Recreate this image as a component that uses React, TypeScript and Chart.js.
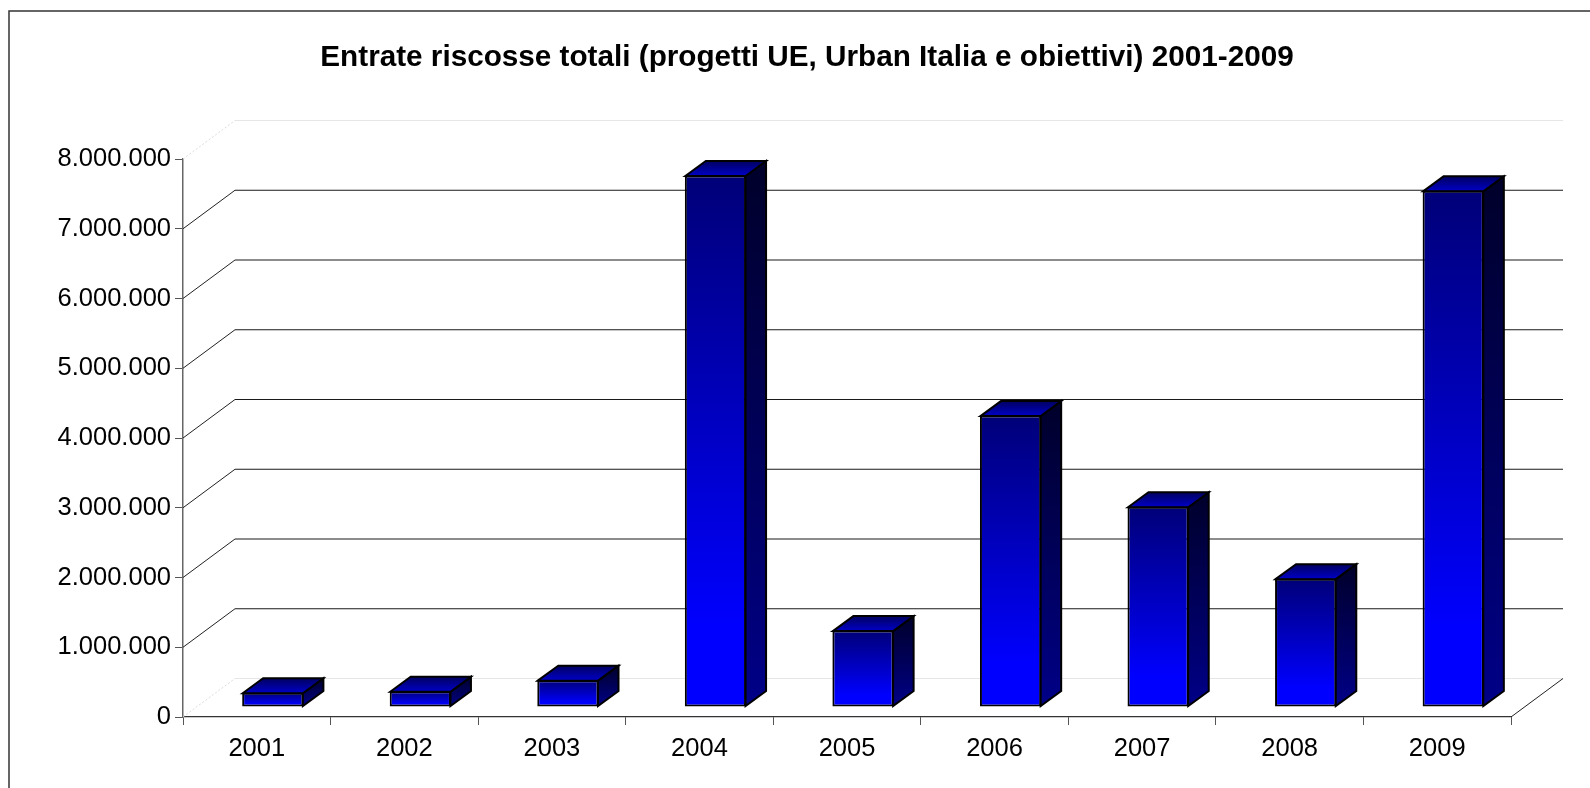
import React, { useEffect, useRef } from "react";
import { Chart, registerables } from "chart.js";

Chart.register(...registerables);

const years = ["2001", "2002", "2003", "2004", "2005", "2006", "2007", "2008", "2009"];
const entrate = [205000, 225000, 385000, 7620000, 1095000, 4178000, 2870000, 1840000, 7400000];
const titleText = "Entrate riscosse totali (progetti UE, Urban Italia e obiettivi) 2001-2009";

const FONT = "'Liberation Sans', Arial, sans-serif";
const WALL_DX = 52;
const WALL_DY = 38.5;
const BAR_SHIFT_X = 16;
const BAR_SHIFT_Y = 10;
const BAR_DX = 20.5;
const BAR_DY = 15;

const fmt = (v: number) => String(v).replace(/\B(?=(\d{3})+(?!\d))/g, ".");

function vGrad(ctx: CanvasRenderingContext2D, y0: number, y1: number, stops: [number, string][]) {
  const g = ctx.createLinearGradient(0, y0, 0, y1);
  stops.forEach(([o, c]) => g.addColorStop(o, c));
  return g;
}

const threeD = {
  id: "threeD",
  beforeDraw(chart: any) {
    const { ctx, width, height } = chart;
    ctx.save();
    ctx.fillStyle = "#ffffff";
    ctx.fillRect(0, 0, width, height);
    ctx.strokeStyle = "#333333";
    ctx.lineWidth = 1.5;
    ctx.beginPath();
    ctx.moveTo(9, height);
    ctx.lineTo(9, 11);
    ctx.lineTo(width, 11);
    ctx.stroke();
    ctx.restore();
  },
  afterLayout(chart: any) {
    chart.scales.y.left = 0;
  },
  afterDatasetsUpdate(chart: any) {
    chart.getDatasetMeta(0).data.forEach((el: any) => {
      el.x += BAR_SHIFT_X;
      el.y -= BAR_SHIFT_Y;
      el.base -= BAR_SHIFT_Y;
    });
  },
  beforeDatasetsDraw(chart: any) {
    const { ctx, scales, chartArea } = chart;
    const y = scales.y;
    ctx.save();
    y.ticks.forEach((t: any) => {
      const py = y.getPixelForValue(t.value);
      const edge = t.value === y.min || t.value === y.max;
      ctx.strokeStyle = edge ? "#e6e6e6" : "#1a1a1a";
      ctx.lineWidth = edge ? 1 : 1.2;
      ctx.beginPath();
      ctx.moveTo(chartArea.left + WALL_DX, py - WALL_DY);
      ctx.lineTo(chartArea.right + WALL_DX, py - WALL_DY);
      ctx.stroke();
      ctx.lineWidth = 1;
      ctx.setLineDash(edge ? [2, 2] : []);
      ctx.strokeStyle = edge ? "#dddddd" : "#222222";
      ctx.beginPath();
      ctx.moveTo(chartArea.left, py);
      ctx.lineTo(chartArea.left + WALL_DX, py - WALL_DY);
      ctx.stroke();
      ctx.setLineDash([]);
    });
    const py0 = y.getPixelForValue(0);
    ctx.strokeStyle = "#222222";
    ctx.beginPath();
    ctx.moveTo(chartArea.right, py0);
    ctx.lineTo(chartArea.right + WALL_DX, py0 - WALL_DY);
    ctx.stroke();

    chart.getDatasetMeta(0).data.forEach((el: any) => {
      const l = el.x - el.width / 2 + 0.5;
      const r = el.x + el.width / 2 - 0.5;
      const t = el.y + 0.5;
      const b = el.base - 0.5;
      ctx.strokeStyle = "#000000";
      ctx.lineWidth = 2;
      ctx.lineJoin = "miter";
      ctx.fillStyle = vGrad(ctx, t - BAR_DY, b, [[0, "#00002a"], [1, "#000088"]]);
      ctx.beginPath();
      ctx.moveTo(r, t);
      ctx.lineTo(r + BAR_DX, t - BAR_DY);
      ctx.lineTo(r + BAR_DX, b - BAR_DY);
      ctx.lineTo(r, b);
      ctx.closePath();
      ctx.fill();
      ctx.stroke();
      ctx.fillStyle = vGrad(ctx, t - BAR_DY, t, [[0, "#000060"], [1, "#0000c8"]]);
      ctx.beginPath();
      ctx.moveTo(l, t);
      ctx.lineTo(l + BAR_DX, t - BAR_DY);
      ctx.lineTo(r + BAR_DX, t - BAR_DY);
      ctx.lineTo(r, t);
      ctx.closePath();
      ctx.fill();
      ctx.stroke();
    });
    ctx.restore();
  },
};

export default function App() {
  const ref = useRef<HTMLCanvasElement>(null);
  useEffect(() => {
    const chart = new Chart(ref.current as HTMLCanvasElement, {
      type: "bar",
      data: {
        labels: years,
        datasets: [
          {
            data: entrate,
            barPercentage: 0.415,
            categoryPercentage: 1,
            borderColor: "#000000",
            borderWidth: 2,
            borderSkipped: false,
            backgroundColor: (c: any) => {
              if (c.raw === undefined) return "#0000ff";
              const sy = c.chart.scales.y;
              const top = sy.getPixelForValue(c.raw) - BAR_SHIFT_Y;
              const bottom = sy.getPixelForValue(0) - BAR_SHIFT_Y;
              if (!Number.isFinite(top) || !Number.isFinite(bottom)) return "#0000ff";
              return vGrad(c.chart.ctx, top, bottom, [
                [0, "#000078"],
                [0.85, "#0000ff"],
                [1, "#0000ff"],
              ]);
            },
          },
        ],
      },
      options: {
        responsive: false,
        animation: false,
        events: [],
        layout: { autoPadding: false, padding: { left: 103, right: 79, top: 0, bottom: 0 } },
        plugins: {
          legend: { display: false },
          tooltip: { enabled: false },
          title: {
            display: true,
            text: titleText,
            color: "#000000",
            font: { family: FONT, size: 29.7, weight: "bold", lineHeight: 1.2 },
            padding: { top: 39.9, bottom: 83.46 },
          },
        },
        scales: {
          x: {
            afterFit: (s: any) => {
              s.height = 71;
            },
            grid: { drawOnChartArea: false, drawTicks: true, tickLength: 8, color: "#555555", lineWidth: 1 },
            border: { display: true, color: "#333333", width: 1.2 },
            ticks: { color: "#000000", padding: 9, font: { family: FONT, size: 25.5 }, maxRotation: 0, autoSkip: false },
          },
          y: {
            min: 0,
            max: 8000000,
            afterFit: (s: any) => {
              s.width = 80;
            },
            grid: { drawOnChartArea: false, drawTicks: true, tickLength: 8, color: "#555555", lineWidth: 1 },
            border: { display: true, color: "#666666", width: 1.5 },
            ticks: { stepSize: 1000000, color: "#000000", padding: 4, font: { family: FONT, size: 25.5 }, callback: (v: any) => fmt(v) },
          },
        },
      },
      plugins: [threeD],
    } as any);
    return () => chart.destroy();
  }, []);
  return (
    <div style={{ position: "absolute", left: 0, top: 0, width: 1590, height: 788, overflow: "hidden" }}>
      <canvas ref={ref} width={1590} height={788} style={{ display: "block" }} />
    </div>
  );
}
